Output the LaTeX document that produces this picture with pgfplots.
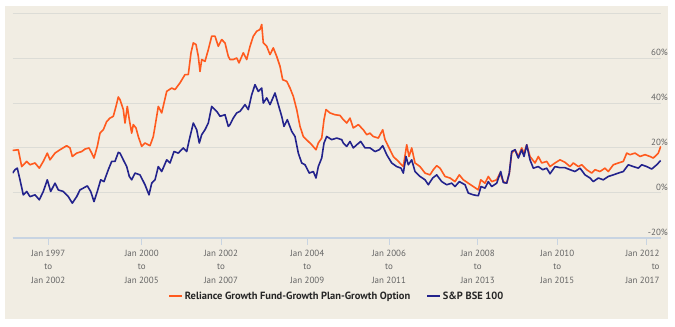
\documentclass[border=0pt]{standalone}
\usepackage{pgfplots}
\pgfplotsset{compat=1.18}
\usepackage{fontspec}
\setmainfont{PT Sans}
\definecolor{bgbeige}{RGB}{241,237,227}
\definecolor{gridgray}{RGB}{220,220,214}
\definecolor{axisblue}{RGB}{200,212,226}
\definecolor{fundorange}{RGB}{255,90,30}
\definecolor{indexblue}{RGB}{35,35,140}
\definecolor{labelgray}{RGB}{100,100,100}
\begin{document}
\begin{tikzpicture}[x=1bp,y=1bp]
\fill[white] (0,0) rectangle (675,326);
\fill[bgbeige] (5,7) rectangle (668,320);
\begin{axis}[
  at={(12.5bp,88.3bp)}, anchor=south west,
  scale only axis, width=648.5bp, height=224.4bp,
  xmin=12.5, xmax=661, ymin=-20, ymax=80,
  axis line style={draw=none},
  ymajorgrids, grid style={gridgray, line width=1bp},
  ytick={-20,0,20,40,60,80},
  yticklabels={-20\%,0\%,20\%,40\%,60\%,},
  ytick style={draw=none},
  yticklabel pos=right,
  yticklabel style={anchor=base east, inner sep=0pt, xshift=0bp, yshift=2.5bp, font=\fontsize{9}{10}\selectfont, text=labelgray},
  extra y ticks={-20},
  extra y tick labels={},
  extra y tick style={grid style={axisblue, line width=1.6bp}},
  xtick={48.3,141.7,221,307.3,389,477.7,557.3},
  xticklabels={{Jan 1997\\to\\Jan 2002},{Jan 2000\\to\\Jan 2005},{Jan 2002\\to\\Jan 2007},{Jan 2004\\to\\Jan 2009},{Jan 2006\\to\\Jan 2011},{Jan 2008\\to\\Jan 2013},{Jan 2010\\to\\Jan 2015}},
  extra x ticks={646},
  extra x tick labels={{Jan 2012\\to\\Jan 2017}},
  extra x tick style={xticklabel style={align=right, anchor=north east, xshift=17bp}},
  xtick pos=lower, tick align=outside, major tick length=7bp,
  xtick style={draw=axisblue, line width=1bp},
  xticklabel style={align=center, font=\fontsize{9}{13.4}\selectfont, text=labelgray, yshift=-2bp},
  legend columns=2,
  legend style={at={(0.5,-0.26)}, anchor=center, draw=none, fill=none,
    font=\fontsize{10.5}{12}\selectfont\bfseries, text=black!85,
    /tikz/every even column/.append style={column sep=14bp}},
  legend image code/.code={\draw[#1] (0bp,0bp) -- (13bp,0bp);},
]
\addplot[fundorange, line width=1.6bp, line join=round] table {
12.7 18.9
18.3 19.2
21.7 11.7
26.7 14.0
30 12.5
35 13.3
39.3 11.0
43.3 14.0
47.3 17.7
50 14.7
55 17.7
60 19.2
66.7 21.0
70 20.0
72.3 16.2
76.7 17.7
81.7 18.4
85 19.5
89 20.0
91.7 17.7
94 15.5
97.3 20.7
100 26.6
103.3 28.1
106.7 31.8
110 33.3
113.3 34.1
116 38.5
118.3 42.7
120 41.5
121.7 39.3
123.3 37.1
125 31.1
127.3 38.5
129.3 32.6
131.7 26.6
133.3 30.4
136 28.9
138.3 25.1
141.7 20.7
145 22.2
150 21.0
153.3 25.1
156.7 34.1
158.3 38.5
161.7 35.6
166.7 45.2
171.7 46.7
175 46.0
180 49.0
185 52.7
188.3 52.7
191 62.4
193.3 66.8
196 66.1
198.3 60.8
200 54.1
201.7 59.4
205 58.6
208.3 63.8
211.7 69.8
215 69.8
218.3 65.3
221.7 68.3
225 66.8
228.3 60.8
230 59.4
233.3 59.4
236.7 60.1
239 57.9
243.3 62.4
246.7 59.4
250 65.3
253.3 69.8
256.7 72.0
260 72.8
261.7 75.0
263.3 66.8
266.7 65.3
270 61.6
273.3 64.6
276.7 60.8
280 56.4
282.7 50.4
286.7 49.7
290 46.7
293.3 43.0
296.7 37.1
300 29.6
303.3 25.1
308.3 22.9
311.7 21.4
316 19.2
318.3 22.2
321.7 24.4
324 32.6
326 37.1
330 35.6
335 34.8
340 34.5
343.3 32.6
346.7 31.1
350 33.3
353.3 28.9
358.3 30.4
363.3 28.1
366.7 25.9
370 26.6
373.3 25.1
378.3 24.4
382.7 28.1
385 23.7
388.3 20.7
393.3 16.2
398.3 14.0
403.3 11.7
406.7 21.4
409 16.2
411.7 20.0
415 13.3
420 11.7
425 8.8
430 8.0
433.3 10.3
436.7 12.1
440 11.0
445 7.3
450 6.6
455 5.0
459.3 8.0
463.3 5.8
468.3 4.3
473.3 2.8
478.3 1.3
480.7 5.8
485 4.3
488.3 7.3
491.7 5.0
496.7 5.8
500 8.8
503.3 5.0
506.7 4.3
509.3 8.8
511.7 17.7
515 19.2
518.3 16.2
521.7 20.0
524 17.7
526.7 21.4
530 16.2
535 13.3
538.3 16.2
541.7 13.3
546.7 14.0
550 11.7
555 13.3
560 14.7
565 13.6
570 11.7
573.3 13.3
578.3 11.7
581.7 12.5
586.7 10.3
591.7 8.8
595 10.3
600 9.5
605 11.0
608.3 9.5
613.3 12.5
618.3 13.3
623.3 14.0
626.7 17.7
630 17.0
635 17.7
640 16.2
645 17.0
650 16.2
653.3 15.5
658.3 17.7
660.7 20.7
};
\addlegendentry{Reliance Growth Fund-Growth Plan-Growth Option}
\addplot[indexblue, line width=1.6bp, line join=round] table {
12.7 8.8
15 10.3
17.3 11.0
20 5.8
23.3 -0.9
26.7 0.6
30 -1.7
35 -0.9
39.3 -3.1
43.3 0.6
47.3 5.8
50.7 0.6
55 4.3
58.3 1.3
63.3 0.6
68.3 -1.7
72.3 -4.6
76.7 -1.7
80 1.3
83.3 2.1
87.3 3.1
90.7 0.6
94 -3.9
97.3 0.6
100.7 5.8
104 5.0
108.3 10.3
111.7 14.0
115 14.0
118.3 18.0
120 17.7
121.7 16.2
123.3 14.7
126.7 11.7
129.3 7.3
131.7 5.8
135 8.8
140 8.0
145 3.6
149 -0.9
151.7 4.3
155 5.8
158.3 11.7
161.7 9.5
166.7 14.7
170 13.3
174 18.4
178.3 17.7
183.3 20.0
186.7 18.4
189.3 23.7
191.7 28.1
193.3 31.1
196.7 28.1
199.3 22.2
201.7 25.9
205 28.1
208.3 31.1
211.7 38.5
216.7 36.3
220 34.1
225 34.8
228.3 29.6
230 30.4
233.3 33.3
236.7 35.6
240 36.3
245 39.3
248.3 37.1
251.7 43.7
255 48.2
258.3 45.2
261.7 46.7
263.3 40.0
266.7 42.3
270 39.3
275 44.5
278.3 39.3
281.7 34.1
284 29.6
287.3 32.6
291.7 27.4
295 25.1
298.3 17.7
301.7 13.3
305 12.5
309.3 8.8
313.3 9.5
316 6.6
318.3 11.7
321.7 15.5
324 22.2
326.7 25.1
331.7 23.7
336.7 24.4
341.7 23.7
343.3 22.2
346.7 20.7
350 22.9
353.3 20.0
356.7 21.4
360.7 22.9
365 20.0
370 20.0
375 18.4
379.3 19.2
382.7 21.0
386.7 17.0
391.7 13.3
396.7 11.7
401 11.0
403.3 8.8
406 16.2
408.3 12.5
411.7 14.7
415 9.5
420 7.3
425 5.8
428.3 3.6
432.7 6.6
436.7 8.0
441.7 5.0
446.7 3.6
451.7 4.3
455 2.8
459.3 5.0
465 3.6
468.3 -0.1
473.3 -0.9
478.3 -1.3
481 2.8
485 2.1
488.3 5.0
491.7 2.8
496.7 4.3
500.7 9.5
503.3 4.6
506.7 4.3
509.3 8.8
511.7 18.4
515 19.2
518.3 15.5
521.7 19.2
524 16.2
526.7 21.4
530 14.7
533.3 11.0
538.3 11.7
542.7 10.3
546.7 11.0
550 8.5
555 11.7
560 11.2
565 11.2
570 10.3
575 9.5
580 11.0
585 8.0
590 6.6
593.3 5.0
598.3 6.6
603.3 5.8
608.3 7.3
613.3 8.0
618.3 8.8
623.3 9.5
628.3 12.5
633.3 11.7
638.3 11.0
641.7 12.5
646.7 11.7
651.7 10.6
656.7 12.5
660.7 14.4
};
\addlegendentry{S\&P BSE 100}
\end{axis}
\end{tikzpicture}
\end{document}
